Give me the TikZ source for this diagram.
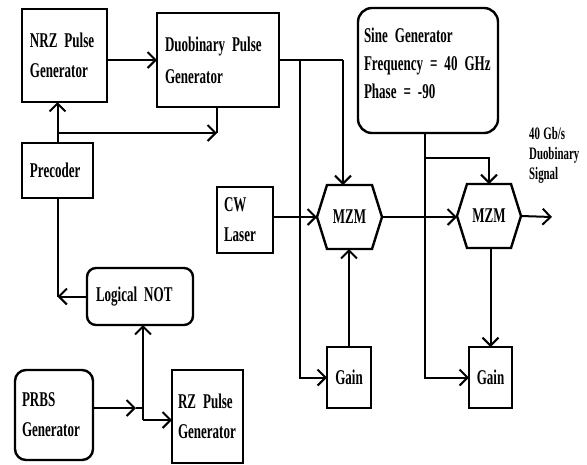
\documentclass[tikz,border=0pt]{standalone}
\usepackage{fontspec}
\setmainfont{Liberation Serif}[FakeStretch=0.62]
\usetikzlibrary{arrows.meta}
\newcommand{\oneline}[1]{\mbox{#1}}
\newcommand{\boxfont}[2]{\fontsize{#1}{#2}\selectfont\bfseries\spaceskip=3.4pt\relax}
\begin{document}
\begin{tikzpicture}[x=1pt,y=-1pt,
  box/.style={draw,line width=2.4pt,inner sep=0pt,outer sep=0pt,font=\boxfont{21}{30},align=left},
  rbox/.style={box,rounded corners=9pt},
  hexnode/.style={inner sep=0pt,outer sep=0pt,font=\boxfont{21}{30}},
  hexline/.style={line width=2.4pt,line join=miter},
  conn/.style={line width=2pt},
  arr/.style={conn,-{Straight Barb[length=8pt,width=16pt,line width=2pt]}},
  txt/.style={inner sep=0pt,font=\boxfont{17.5}{20},align=left}]
\useasboundingbox (0,0) rectangle (587,464);
% boxes
\node[box,minimum width=85pt,minimum height=93pt,text width=69pt] (nrz) at (64.5,55.5) {\oneline{NRZ Pulse}\\\oneline{Generator}};
\node[box,minimum width=122pt,minimum height=94pt,text width=106pt,font=\boxfont{21}{32}] (duob) at (218,60) {\oneline{Duobinary Pulse}\\\oneline{Generator}};
\node[box,minimum width=71pt,minimum height=55pt,text width=55pt] (pre) at (57.5,170.5) {\oneline{Precoder}};
\node[rbox,minimum width=106pt,minimum height=57pt,text width=88pt] (not) at (140,296.5) {\oneline{Logical NOT}};
\node[rbox,rounded corners=11pt,minimum width=78pt,minimum height=90pt,text width=64pt] (prbs) at (54,415) {\oneline{PRBS}\\\oneline{Generator}};
\node[box,minimum width=71pt,minimum height=93pt,text width=59pt] (rz) at (207.5,416.5) {\oneline{RZ Pulse}\\\oneline{Generator}};
\node[box,minimum width=56pt,minimum height=66pt,text width=42pt] (cw) at (245,220) {\oneline{CW}\\\oneline{Laser}};
\node[rbox,rounded corners=14pt,minimum width=140pt,minimum height=125pt,text width=128pt,font=\boxfont{21}{28}] (sine) at (428,70.5) {\oneline{Sine Generator}\\\oneline{Frequency = 40 GHz}\\\oneline{Phase = -90}\\[-14pt]\mbox{}};
\node[box,minimum width=44pt,minimum height=61pt] (g1) at (349,377.5) {Gain};
\node[box,minimum width=43pt,minimum height=61pt] (g2) at (490.5,377.5) {Gain};
% MZM hexagons
\node[hexnode,minimum width=65pt,minimum height=64pt] (m1) at (349.5,217) {MZM};
\node[hexnode,minimum width=64pt,minimum height=64pt] (m2) at (489,216) {MZM};
\foreach \m in {m1,m2}{
  \draw[hexline] ([xshift=10pt]\m.north west) -- ([xshift=-10pt]\m.north east) -- (\m.east)
    -- ([xshift=-10pt]\m.south east) -- ([xshift=10pt]\m.south west) -- (\m.west) -- cycle;
}
\node[txt,anchor=west] (sig) at (529,155) {40 Gb/s\\Duobinary\\Signal};
% coordinates
\coordinate (b1) at (pre.north |- 0,133);
\coordinate (j1) at (217,133);
\coordinate (j2) at (pre.south |- not.west);
\coordinate (a3) at (136,408);
\coordinate (j3) at (143,408);
\coordinate (j4) at (143,420);
\coordinate (j5) at (343,60);
\coordinate (j6) at (300,60);
\coordinate (j7) at (425,158);
\coordinate (out) at (552,217);
% connectors
\draw[arr] (nrz.east |- duob.west) -- (duob.west);
\draw[arr] (pre.north) -- (pre.north |- nrz.south);
\draw[arr] (b1) -- (j1);
\draw[conn] (j1) -- (j1 |- duob.south);
\draw[conn] (pre.south) -- (j2);
\draw[arr] (not.west) -- (j2);
\draw[arr] (prbs.east |- a3) -- (a3);
\draw[conn] (a3) -- (j3) -- (j4);
\draw[arr] (j4) -- (j4 |- not.south);
\draw[arr] (j4) -- (j4 -| rz.west);
\draw[arr] (cw.east |- m1.west) -- (m1.west);
\draw[conn] (duob.east) -- (j5);
\draw[arr] (j5) -- (j5 |- m1.north);
\draw[arr] (j6) |- (g1.west);
\draw[arr] (g1.north) -- (g1.north |- m1.south);
\draw[arr] (m1.east) -- (m1.east -| m2.west);
\draw[arr] (m2.east) -- (out);
\draw[conn] (sine.south -| j7) -- (j7);
\draw[arr] (j7) -| (m2.north);
\draw[arr] (j7) |- (g2.west);
\draw[arr] (m2.south) -- (m2.south -| g2.north) -- (g2.north);
\end{tikzpicture}
\end{document}
